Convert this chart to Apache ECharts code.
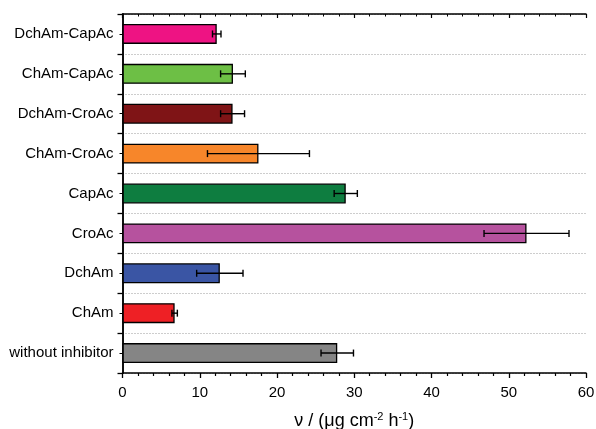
<!DOCTYPE html>
<html><head><meta charset="utf-8">
<script src="https://cdn.jsdelivr.net/npm/echarts@6/dist/echarts.min.js"></script>
<style>html,body{margin:0;padding:0;background:#fff}#c{width:596px;height:429px}</style>
</head><body><div id="c"></div>
<script>
var categories = ['without inhibitor','ChAm','DchAm','CroAc','CapAc','ChAm-CroAc','DchAm-CroAc','ChAm-CapAc','DchAm-CapAc'];
var values = [27.8, 6.75, 12.6, 52.3, 28.9, 17.6, 14.25, 14.3, 12.2];
var errors = [2.1, 0.35, 3.0, 5.5, 1.5, 6.6, 1.55, 1.6, 0.55];
var xTicks = [0, 10, 20, 30, 40, 50, 60];
var colors = ['#858585','#EE2025','#3A55A4','#B6529E','#0E7D40','#F7862A','#7F1416','#6DBF45','#EE1383'];

var chart = echarts.init(document.getElementById('c'));
var font = 'Liberation Sans, Arial, sans-serif';
var barData = values.map(function(v, i){ return {value: v, itemStyle: {color: colors[i]}}; });
var errData = values.map(function(v, i){ return [i, v - errors[i], v + errors[i]]; });

chart.setOption({
  animation: false,
  grid: {left: 122.5, right: 10, top: 14, bottom: 56, containLabel: false, outerBoundsMode: 'none'},
  xAxis: [{
    type: 'value', min: xTicks[0], max: xTicks[xTicks.length-1], interval: 10, position: 'bottom',
    axisLine: {show: true, lineStyle: {color: '#000', width: 1.5}},
    axisTick: {show: true, length: 5, lineStyle: {color: '#000', width: 1.3}},
    minorTick: {show: true, splitNumber: 5, length: 3, lineStyle: {color: '#000', width: 1.2}},
    splitLine: {show: false},
    axisLabel: {color: '#000', fontFamily: font, fontSize: 15, margin: 12},
    name: '{n|ν / (μg cm}{s|-2}{n| h}{s|-1}{n|)}', nameLocation: 'middle', nameGap: 38,
    nameTextStyle: {rich: {
      n: {fontFamily: font, fontSize: 18, color: '#000'},
      s: {fontFamily: font, fontSize: 11, color: '#000', verticalAlign: 'top', padding: [0,0,9,0]}
    }}
  }, {
    type: 'value', min: 0, max: 60, interval: 10, position: 'top',
    axisLine: {show: true, lineStyle: {color: '#000', width: 1.5}},
    axisTick: {show: true, inside: true, length: 4, lineStyle: {color: '#000', width: 1.2}},
    minorTick: {show: true, splitNumber: 5, length: 2.5, lineStyle: {color: '#000', width: 1}},
    splitLine: {show: false}, axisLabel: {show: false}
  }],
  yAxis: [{
    type: 'category', data: categories, position: 'left',
    axisLine: {show: true, lineStyle: {color: '#000', width: 1.5}},
    axisTick: {show: true, length: 5, lineStyle: {color: '#000', width: 1.3}},
    splitLine: {show: true, lineStyle: {color: '#9a9a9a', type: [1, 2], width: 1}},
    axisLabel: {color: '#000', fontFamily: font, fontSize: 15, margin: 9}
  }, {
    type: 'category', data: categories, position: 'right',
    axisLine: {show: true, lineStyle: {color: '#000', width: 1.5}},
    axisTick: {show: true, inside: true, alignWithLabel: true, length: 3, lineStyle: {color: '#000', width: 1}},
    splitLine: {show: false}, axisLabel: {show: false}
  }],
  series: [{
    type: 'bar', data: barData, barWidth: '50%', xAxisIndex: 0, yAxisIndex: 0,
    itemStyle: {borderColor: '#000', borderWidth: 1.3}
  }, {
    type: 'custom', xAxisIndex: 0, yAxisIndex: 0, data: errData, z: 10,
    renderItem: function(params, api){
      var y = api.value(0);
      var p1 = api.coord([api.value(1), y]);
      var p2 = api.coord([api.value(2), y]);
      var h = 3.5;
      var st = {stroke: '#000', lineWidth: 1.4};
      return {type: 'group', children: [
        {type: 'line', shape: {x1: p1[0], y1: p1[1], x2: p2[0], y2: p2[1]}, style: st},
        {type: 'line', shape: {x1: p1[0], y1: p1[1]-h, x2: p1[0], y2: p1[1]+h}, style: st},
        {type: 'line', shape: {x1: p2[0], y1: p2[1]-h, x2: p2[0], y2: p2[1]+h}, style: st}
      ]};
    }
  }]
});
</script></body></html>
